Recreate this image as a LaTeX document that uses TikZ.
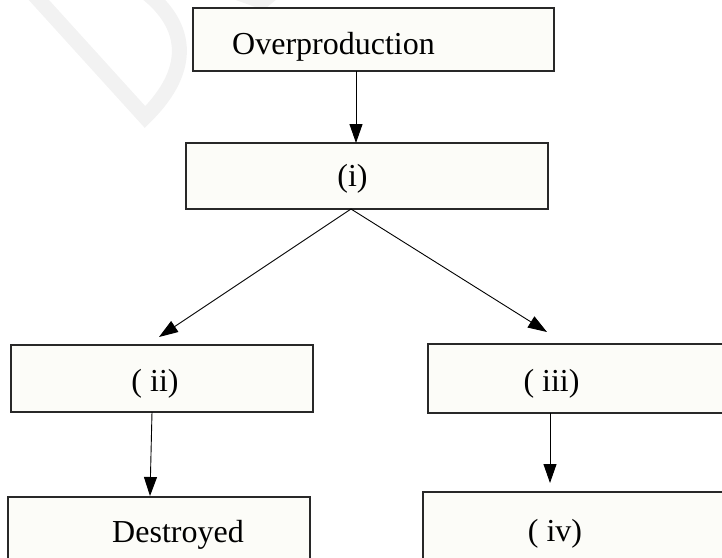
\documentclass[tikz,border=0pt]{standalone}
\usepackage{fontspec}
\setmainfont{Liberation Serif}
\usetikzlibrary{arrows.meta}
\definecolor{boxfill}{RGB}{252,252,248}
\definecolor{boxline}{RGB}{40,40,40}
\definecolor{wmark}{RGB}{242,242,242}
\begin{document}
\begin{tikzpicture}[x=1pt,y=-1pt,
  box/.style={draw=boxline, fill=boxfill, line width=1.3pt, rectangle, inner sep=0pt, outer sep=0pt},
  lbl/.style={font=\fontsize{32}{38}\selectfont, inner sep=0pt, anchor=base},
  arr/.style={draw=black, line width=0.9pt, -{Triangle[length=19pt,width=13pt]}}]
\useasboundingbox (0,0) rectangle (722,557);
\clip (0,0) rectangle (722,557);
% faint watermark
\draw[wmark, line width=15pt, line join=miter, miter limit=10] (28,-12) -- (145,117) .. controls (195,68) and (188,22) .. (140,-12);
\fill[wmark] (233,-1) -- (277,-1) -- (266,8) -- (258,8) -- cycle;
% boxes
\node[box, minimum width=361pt, minimum height=63pt] (b1) at (373.5,39.5) {};
\node[box, minimum width=362pt, minimum height=66pt] (bi) at (367,176) {};
\node[box, minimum width=302pt, minimum height=67pt] (bii) at (162,378.5) {};
\node[box, minimum width=296pt, minimum height=69pt] (biii) at (576,378.5) {};
\node[box, minimum width=302pt, minimum height=93pt] (bD) at (159,543.5) {};
\node[box, minimum width=301pt, minimum height=98pt] (biv) at (573.5,541) {};
% labels
\node[lbl, anchor=base west] (t1) at (232,54) {Overproduction};
\node[lbl] (t2) at (352.5,186) {(i)};
\node[lbl] (t3) at (155,391) {( ii)};
\node[lbl] (t4) at (551.5,391) {( iii)};
\node[lbl] (t5) at (178,542) {Destroyed};
\node[lbl] (t6) at (555,541) {( iv)};
% connectors
\draw[arr] ([xshift=-17.5pt]b1.south) -- ([xshift=-11pt]bi.north);
\draw[arr] ([xshift=-16pt]bi.south) -- ([xshift=-3pt,yshift=8pt]bii.north);
\draw[arr] ([xshift=-16pt]bi.south) -- ([xshift=-29pt,yshift=12pt]biii.north);
\draw[arr] ([xshift=-10pt]bii.south) -- ([xshift=-9pt,yshift=1pt]bD.north);
\draw[arr] ([xshift=-26pt]biii.south) -- ([xshift=-23.5pt,yshift=9pt]biv.north);
\end{tikzpicture}
\end{document}
